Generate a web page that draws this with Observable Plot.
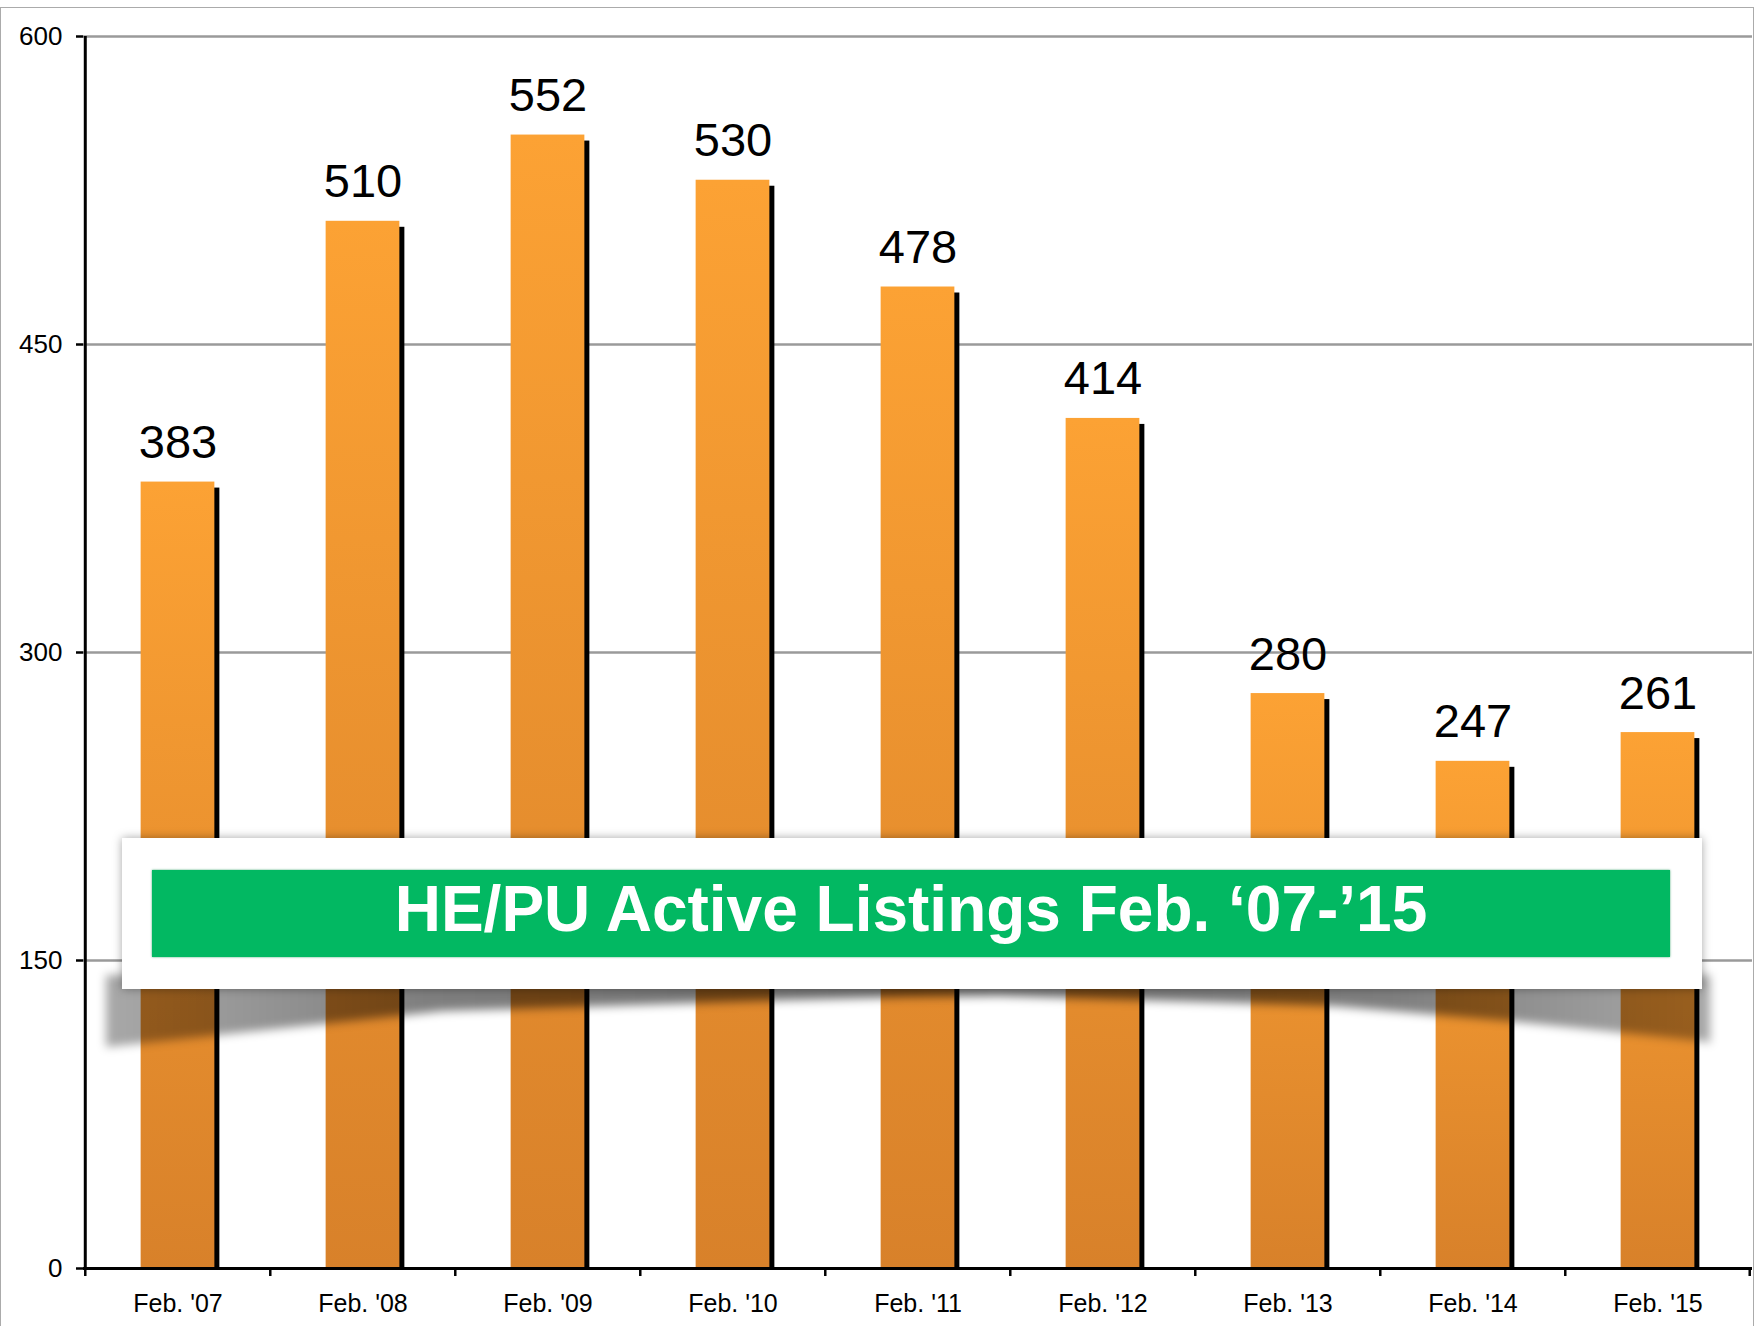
<!DOCTYPE html>
<html>
<head>
<meta charset="utf-8">
<script src="https://cdn.jsdelivr.net/npm/d3@7"></script>
<script src="https://cdn.jsdelivr.net/npm/@observablehq/plot@0.6"></script>
<style>
  html, body { margin: 0; padding: 0; background: #fff; }
  #wrap { position: relative; width: 1758px; height: 1326px; overflow: hidden; font-family: "Liberation Sans", Arial, sans-serif; }
  #wrap svg { display: block; }
  #border { position: absolute; left: 0; top: 7px; width: 1754px; height: 1400px; box-sizing: border-box;
            border: 1.5px solid #ababab; pointer-events: none; }
  #shadowOuter { position: absolute; left: 106px; top: 975px; width: 1604px; height: 84px; filter: blur(5px); }
  #shadowInner { position: absolute; left: 0; top: 0; width: 1604px; height: 84px;
                 background: linear-gradient(to right, rgba(0,0,0,0.34), rgba(0,0,0,0.5) 20%, rgba(0,0,0,0.56) 50%, rgba(0,0,0,0.5) 80%, rgba(0,0,0,0.34));
                 clip-path: polygon(0px 0px, 1604px 0px, 1604px 68px, 1596px 66px, 1414px 47px, 1229px 31px, 894px 21px, 802px 22px, 684px 25px, 337px 36px, 0px 72px); }
  #banner { position: absolute; left: 122px; top: 838px; width: 1580px; height: 151px; background: #fff;
            box-shadow: 0 0 9px rgba(0,0,0,0.35); }
  #green { position: absolute; left: 30px; top: 32px; width: 1518px; height: 87px; background: #02b862;
           box-shadow: 0 0 2px rgba(0,140,70,0.7); color: #fff; box-sizing: border-box; padding-bottom: 10px;
           font: bold 64px "Liberation Sans", Arial, sans-serif; display: flex; align-items: center; justify-content: center;
           white-space: nowrap; }
</style>
</head>
<body>
<div id="wrap"></div>
<script>
// ---- data ----
const categories = ["Feb. '07", "Feb. '08", "Feb. '09", "Feb. '10", "Feb. '11", "Feb. '12", "Feb. '13", "Feb. '14", "Feb. '15"];
const values = [383, 510, 552, 530, 478, 414, 280, 247, 261];
const yTicks = [0, 150, 300, 450, 600];
const titleText = "HE/PU Active Listings Feb. \u201807-\u201915";

// ---- layout ----
const W = 1758, H = 1326;
const mL = 83, mR = 6, mT = 36, mB = 58;
const plotH = H - mT - mB;
const bw = (W - mL - mR) / categories.length;
const barInset = bw * 0.3;

const data = categories.map((c, i) => ({cat: c, value: values[i]}));

const gradient = () => {
  const defs = d3.create("svg:defs");
  const g = defs.append("linearGradient").attr("id", "barGrad").attr("x1", 0).attr("y1", 0).attr("x2", 0).attr("y2", 1);
  g.append("stop").attr("offset", "0%").attr("stop-color", "#fca234");
  g.append("stop").attr("offset", "100%").attr("stop-color", "#d8812a");
  return defs.node();
};

const chart = Plot.plot({
  width: W, height: H,
  marginLeft: mL, marginRight: mR, marginTop: mT, marginBottom: mB,
  style: {background: "transparent", fontFamily: "'Liberation Sans', Arial, sans-serif", color: "#000"},
  x: {type: "band", domain: categories, padding: 0, label: null},
  y: {domain: [0, 600], label: null},
  marks: [
    gradient,
    Plot.gridY(yTicks.filter(d => d > 0), {stroke: "#9a9a9a", strokeOpacity: 1, strokeWidth: 2.5}),
    Plot.barY(data, {x: "cat", y: "value", fill: "#000", insetLeft: barInset, insetRight: barInset, dx: 5, dy: 6, insetBottom: 6}),
    Plot.barY(data, {x: "cat", y: "value", fill: "url(#barGrad)", insetLeft: barInset, insetRight: barInset}),
    Plot.text(data, {x: "cat", y: "value", text: d => String(d.value), fontSize: 47, lineAnchor: "bottom", dy: -24, fill: "#000"}),
    Plot.ruleY([0], {stroke: "#000", strokeWidth: 3}),
    Plot.ruleX([categories[0]], {x: d => d, y1: 0, y2: 600, dx: -bw / 2, stroke: "#000", strokeWidth: 3}),
    Plot.axisY({ticks: yTicks, tickSize: 7, tickPadding: 14, fontSize: 26, stroke: "#000", strokeWidth: 2.5, label: null}),
    Plot.axisX({tickSize: 0, tickPadding: 26, fontSize: 25, label: null}),
    Plot.ruleX(categories, {x: d => d, dx: -bw / 2, insetTop: plotH, insetBottom: -8, stroke: "#000", strokeWidth: 2.5}),
    Plot.ruleX([categories[categories.length - 1]], {x: d => d, dx: bw / 2 - 1, insetTop: plotH, insetBottom: -8, stroke: "#000", strokeWidth: 2.5})
  ]
});

const wrap = document.getElementById("wrap");
wrap.appendChild(chart);

const border = document.createElement("div"); border.id = "border"; wrap.appendChild(border);
const shOuter = document.createElement("div"); shOuter.id = "shadowOuter";
const shInner = document.createElement("div"); shInner.id = "shadowInner";
shOuter.appendChild(shInner); wrap.appendChild(shOuter);
const banner = document.createElement("div"); banner.id = "banner";
const green = document.createElement("div"); green.id = "green"; green.textContent = titleText;
banner.appendChild(green);
wrap.appendChild(banner);
</script>
</body>
</html>
